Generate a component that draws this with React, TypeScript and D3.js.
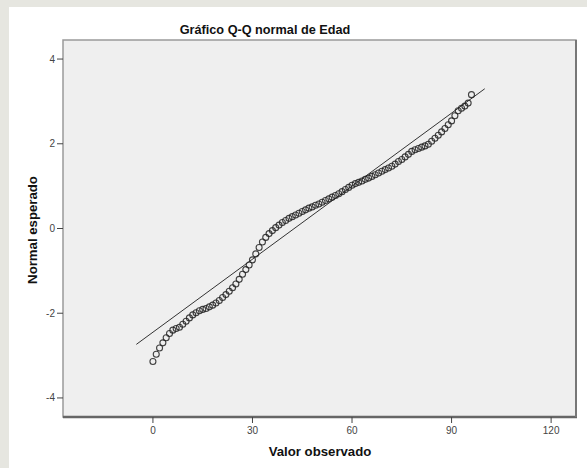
import React from "react";
import * as d3 from "d3";

const title = "Gráfico Q-Q normal de Edad";
const xLabel = "Valor observado";
const yLabel = "Normal esperado";

const xTicks = [0, 30, 60, 90, 120];
const yTicks = [4, 2, 0, -2, -4];

const ages = [
  0, 1, 2, 3, 4, 5, 6, 7, 8, 9, 10, 11, 12, 13, 14, 15, 16, 17, 18, 19, 20, 21, 22, 23, 24,
  25, 26, 27, 28, 29, 30, 31, 32, 33, 34, 35, 36, 37, 38, 39, 40, 41, 42, 43, 44, 45, 46, 47,
  48, 49, 50, 51, 52, 53, 54, 55, 56, 57, 58, 59, 60, 61, 62, 63, 64, 65, 66, 67, 68, 69, 70,
  71, 72, 73, 74, 75, 76, 77, 78, 79, 80, 81, 82, 83, 84, 85, 86, 87, 88, 89, 90, 91, 92, 93,
  94, 95, 96,
];
const expectedNormal = [
  -3.14, -2.97, -2.82, -2.7, -2.58, -2.48, -2.4, -2.36, -2.33, -2.26, -2.19, -2.11, -2.04,
  -1.99, -1.94, -1.91, -1.89, -1.85, -1.81, -1.76, -1.7, -1.63, -1.56, -1.48, -1.4, -1.31,
  -1.2, -1.08, -0.97, -0.86, -0.74, -0.6, -0.45, -0.32, -0.21, -0.12, -0.05, 0.02, 0.08, 0.14,
  0.19, 0.24, 0.28, 0.32, 0.36, 0.4, 0.44, 0.48, 0.51, 0.55, 0.58, 0.62, 0.66, 0.7, 0.74,
  0.78, 0.82, 0.87, 0.92, 0.97, 1.02, 1.06, 1.09, 1.12, 1.16, 1.19, 1.23, 1.27, 1.31, 1.35,
  1.39, 1.43, 1.47, 1.52, 1.58, 1.63, 1.69, 1.75, 1.82, 1.86, 1.89, 1.92, 1.95, 1.99, 2.06,
  2.13, 2.2, 2.28, 2.36, 2.45, 2.54, 2.66, 2.78, 2.84, 2.89, 2.96, 3.16,
];

// Reference line (normal with mean and sd of the sample)
const lineMean = 42.6;
const lineSd = 17.4;
const lineRange = [-5, 100];

const W = 587;
const H = 468;
const plot = { left: 63, top: 40, right: 576, bottom: 417 };

export default function App() {
  const x = d3.scaleLinear().domain([-27.1, 127.5]).range([plot.left, plot.right]);
  const y = d3.scaleLinear().domain([-4.45, 4.45]).range([plot.bottom, plot.top]);

  const linePath = d3
    .line<number>()
    .x((d) => x(d))
    .y((d) => y((d - lineMean) / lineSd))(lineRange);

  const font = "'Liberation Sans', Arial, sans-serif";

  return (
    <svg
      width={W}
      height={H}
      style={{ position: "absolute", left: 0, top: 0, display: "block" }}
    >
      <rect x={0} y={0} width={W} height={H} fill="#e6e6e0" />
      <rect x={9} y={7} width={W - 9} height={H - 7} fill="#ffffff" />

      <text
        x={265}
        y={34}
        textAnchor="middle"
        fontFamily={font}
        fontWeight="bold"
        fontSize={12.7}
        fill="#111"
      >
        {title}
      </text>

      <rect
        x={plot.left}
        y={plot.top}
        width={plot.right - plot.left}
        height={plot.bottom - plot.top}
        fill="#efefef"
        stroke="#9a9a9a"
        strokeWidth={1.5}
      />
      <line x1={plot.left} x2={plot.right + 1} y1={plot.bottom} y2={plot.bottom} stroke="#666" strokeWidth={2.5} />
      <line x1={plot.right} x2={plot.right} y1={plot.top} y2={plot.bottom} stroke="#777" strokeWidth={2} />

      {xTicks.map((t) => (
        <g key={"x" + t}>
          <line x1={x(t)} x2={x(t)} y1={plot.bottom} y2={plot.bottom + 6} stroke="#444" strokeWidth={1} />
          <text
            x={x(t)}
            y={plot.bottom + 17}
            textAnchor="middle"
            fontFamily={font}
            fontSize={10}
            fill="#444"
          >
            {t}
          </text>
        </g>
      ))}
      {yTicks.map((t) => (
        <g key={"y" + t}>
          <line x1={plot.left - 6} x2={plot.left} y1={y(t)} y2={y(t)} stroke="#444" strokeWidth={1} />
          <text
            x={plot.left - 8}
            y={y(t) + 3.5}
            textAnchor="end"
            fontFamily={font}
            fontSize={10}
            fill="#444"
          >
            {t}
          </text>
        </g>
      ))}

      <path d={linePath || ""} fill="none" stroke="#333" strokeWidth={1} />

      {ages.map((a, i) => (
        <circle
          key={"p" + a}
          cx={x(a)}
          cy={y(expectedNormal[i])}
          r={3}
          fill="none"
          stroke="#222"
          strokeWidth={1.1}
          strokeOpacity={0.85}
        />
      ))}

      <text
        x={320}
        y={456}
        textAnchor="middle"
        fontFamily={font}
        fontWeight="bold"
        fontSize={13.2}
        fill="#111"
      >
        {xLabel}
      </text>
      <text
        transform={`translate(37, 230) rotate(-90)`}
        textAnchor="middle"
        fontFamily={font}
        fontWeight="bold"
        fontSize={13.2}
        fill="#111"
      >
        {yLabel}
      </text>
    </svg>
  );
}
